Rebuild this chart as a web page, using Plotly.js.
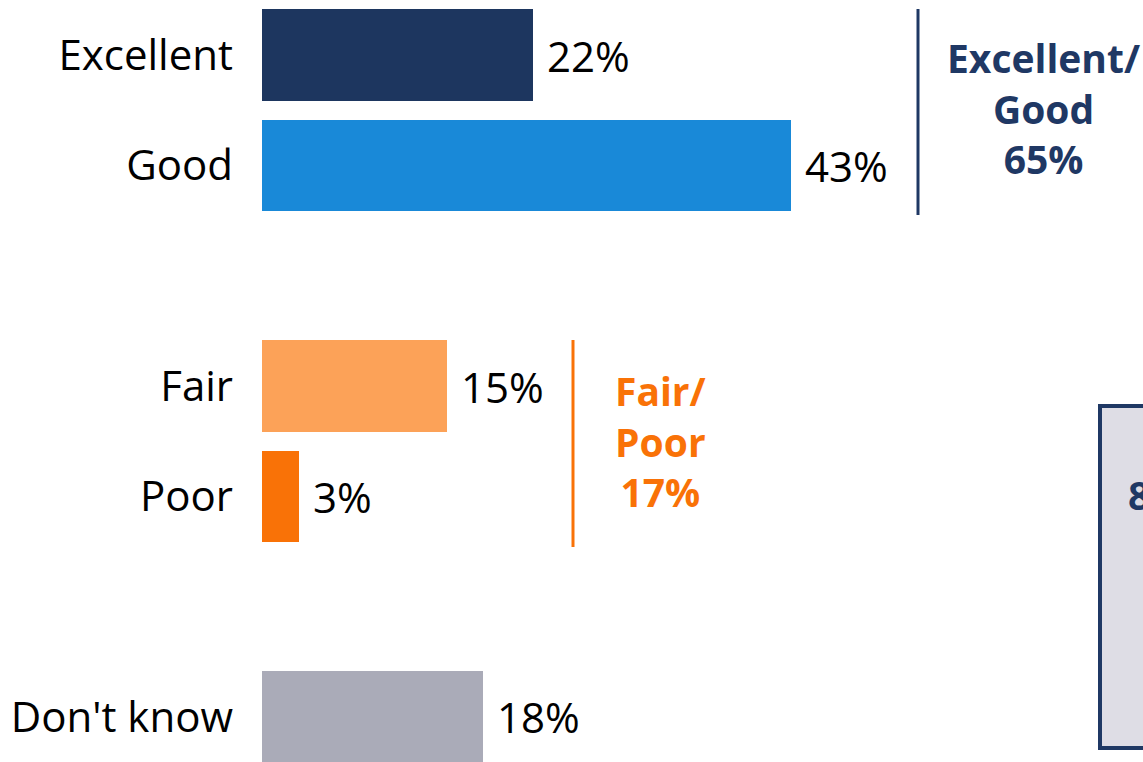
<!DOCTYPE html>
<html><head><meta charset="utf-8">
<script src="https://cdn.plot.ly/plotly-3.0.1.min.js"></script>
<style>html,body{margin:0;padding:0;background:#fff;overflow:hidden}#chart{width:1143px;height:762px}</style>
</head><body><div id="chart"></div>
<script>
const categories = ['Excellent', 'Good', ' ', 'Fair', 'Poor', '  ', "Don't know"];
const values = [22, 43, null, 15, 3, null, 18];
const barColors = ['#1D365F', '#1989D8', '#ffffff', '#FCA258', '#F97207', '#ffffff', '#AAABB8'];
const groupLabels = ['Excellent/<br>Good<br>65%', 'Fair/<br>Poor<br>17%'];
const groupColors = ['#1F3864', '#F97207'];
const boxText = '8';

const FONT = '"Open Sans", sans-serif';
const FS = 42;
const FB = 39;

const trace = {
  type: 'bar', orientation: 'h',
  y: categories, x: values,
  marker: {color: barColors},
  width: 0.83,
  hoverinfo: 'none'
};

const annotations = [];
categories.forEach((c, i) => {
  if (values[i] == null) return;
  annotations.push({x: values[i], y: c, xref: 'x', yref: 'y', text: values[i] + '%',
    showarrow: false, xanchor: 'left', xshift: 12, yshift: 0,
    font: {family: FONT, size: FS, color: '#000'}});
});
annotations.push({x: 1043, y: 108, text: groupLabels[0],
  showarrow: false, xanchor: 'center', yanchor: 'middle',
  font: {family: FONT, size: FB, color: groupColors[0], weight: 'bold'}});
annotations.push({x: 660, y: 441, text: groupLabels[1], showarrow: false,
  xanchor: 'center', yanchor: 'middle',
  font: {family: FONT, size: FB, color: groupColors[1], weight: 'bold'}});
annotations.push({x: 1126, y: 494, text: boxText, showarrow: false,
  xanchor: 'left', yanchor: 'middle',
  font: {family: FONT, size: FB, color: groupColors[0], weight: 'bold'}});

const W = 1143, H = 762, L = 262;
annotations.forEach(a => {
  if (a.xref === 'x') return;
  a.xref = 'paper'; a.yref = 'paper';
  a.x = (a.x - L) / (W - L);
  a.y = 1 - a.y / H;
});

const px = (x) => (x - L) / (W - L);
const py = (y) => 1 - y / H;

const shapes = [
  {type: 'line', xref: 'paper', yref: 'paper', x0: px(918), x1: px(918), y0: py(9), y1: py(215),
    line: {color: groupColors[0], width: 3}},
  {type: 'line', xref: 'paper', yref: 'paper', x0: px(573), x1: px(573), y0: py(340), y1: py(547),
    line: {color: groupColors[1], width: 3}},
  {type: 'rect', xref: 'paper', yref: 'paper', x0: px(1100), x1: px(1160), y0: py(406), y1: py(748),
    fillcolor: '#DEDDE5', line: {color: '#1F3864', width: 4}, layer: 'below'}
];

const layout = {
  width: W, height: H,
  margin: {l: L, r: 0, t: 0, b: 0, pad: 0},
  paper_bgcolor: '#fff', plot_bgcolor: 'rgba(0,0,0,0)',
  showlegend: false,
  bargap: 0,
  xaxis: {range: [0, (W - L) / 12.3], visible: false, fixedrange: true},
  yaxis: {type: 'category', categoryarray: categories, categoryorder: 'array',
    range: [6.408, -0.5], showgrid: false, zeroline: false, showline: false,
    ticks: '', ticklabelstandoff: 28,
    tickfont: {family: FONT, size: FS, color: '#000'}, fixedrange: true},
  annotations: annotations,
  shapes: shapes
};

Plotly.newPlot('chart', [trace], layout, {displayModeBar: false, staticPlot: true});
</script>
</body></html>
